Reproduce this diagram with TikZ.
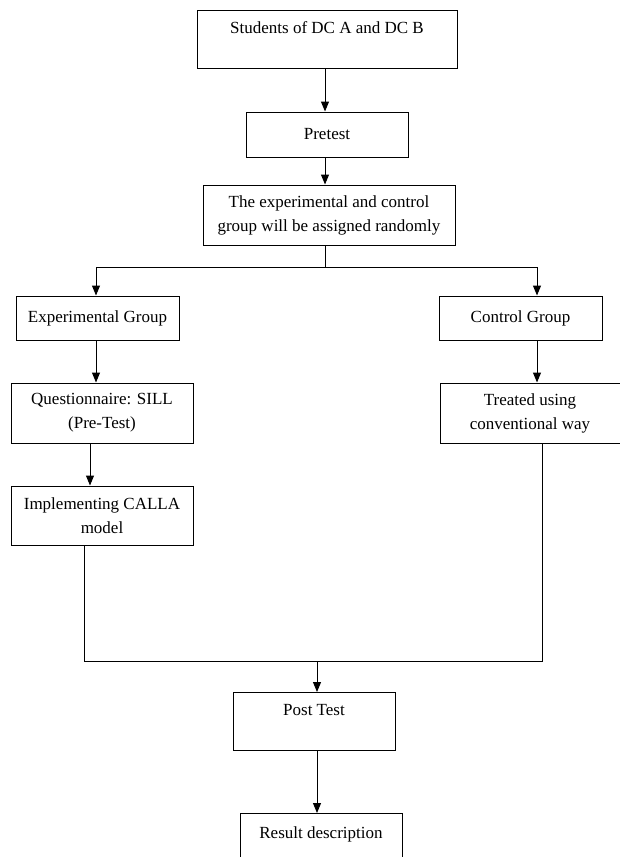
\documentclass[tikz,border=0pt]{standalone}
\usepackage{fontspec}
\setmainfont{Liberation Serif}
\usetikzlibrary{arrows.meta}
\tikzset{
  box/.style={draw, line width=1pt, inner xsep=2pt, inner ysep=0pt, align=center,
    font=\fontsize{17}{24}\selectfont},
  topbox/.style={box, text height=23pt, text depth=35pt},
  link/.style={line width=1pt},
  arr/.style={link, -{Triangle[width=8pt,length=10pt]}}
}
\begin{document}
\begin{tikzpicture}[x=1pt,y=-1pt]
\useasboundingbox (0,0) rectangle (620,857);
\clip (0,0) rectangle (620,857);
% nodes
\node[topbox, minimum width=260pt, anchor=north] (s) at (327,10) {Students of DC A and DC B};
\node[box, minimum width=162pt, minimum height=45pt] (pre) at (327,134.5) {Pretest};
\node[box, minimum width=252pt, minimum height=60pt] (rand) at (329,215) {The experimental and control\\group will be assigned randomly};
\node[box, minimum width=163pt, minimum height=44pt] (exp) at (97.5,318) {Experimental Group};
\node[box, minimum width=163pt, minimum height=44pt] (ctl) at (520.5,318) {Control Group};
\node[box, minimum width=182pt, minimum height=60pt] (q) at (102,413) {Questionnaire: SILL\\(Pre-Test)};
\node[box, minimum width=180pt, minimum height=60pt] (tr) at (530,413) {Treated using\\conventional way};
\node[box, minimum width=182pt, minimum height=59pt] (imp) at (102,515.5) {Implementing CALLA\\model};
\node[topbox, minimum width=162pt, anchor=north] (post) at (314,692) {Post Test};
\node[box, minimum width=162pt, text height=25pt, text depth=40pt, anchor=north] (res) at (321,813) {Result description};
% helper coordinates
\coordinate (c1) at (325,0);
\coordinate (split) at (325,267);
\coordinate (el) at (96,0);
\coordinate (cr) at (537,0);
\coordinate (qa) at (90,0);
\coordinate (il) at (84,0);
\coordinate (tl) at (542,0);
\coordinate (join) at (317,661);
% connectors
\draw[arr] (s.south -| c1) -- (pre.north -| c1);
\draw[arr] (pre.south -| c1) -- (rand.north -| c1);
\draw[link] (rand.south -| c1) -- (split);
\draw[arr] (split) -| (exp.north -| el);
\draw[arr] (split) -| (ctl.north -| cr);
\draw[arr] (exp.south -| el) -- (q.north -| el);
\draw[arr] (ctl.south -| cr) -- (tr.north -| cr);
\draw[arr] (q.south -| qa) -- (imp.north -| qa);
\draw[link] (imp.south -| il) |- (join);
\draw[link] (tr.south -| tl) |- (join);
\draw[arr] (join) -- (post.north -| join);
\draw[arr] (post.south -| join) -- (res.north -| join);
\end{tikzpicture}
\end{document}
